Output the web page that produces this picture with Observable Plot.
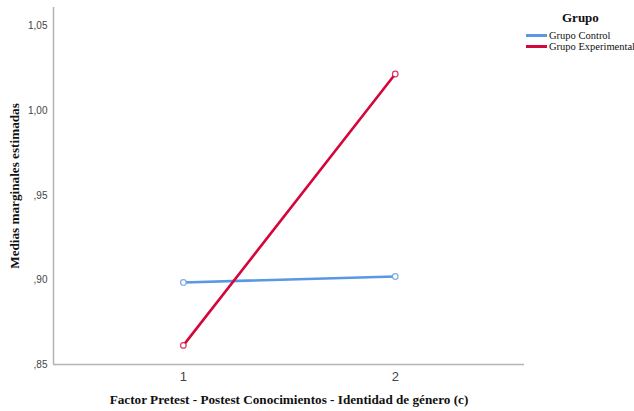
<!DOCTYPE html>
<html><head><meta charset="utf-8">
<script src="https://cdn.jsdelivr.net/npm/d3@7"></script>
<script src="https://cdn.jsdelivr.net/npm/@observablehq/plot@0.6"></script>
<style>
html,body{margin:0;padding:0;background:#fff;}
#wrap{position:relative;width:634px;height:411px;}
#legend{position:absolute;left:526px;top:10px;font-family:"Liberation Serif","DejaVu Serif",serif;color:#111;white-space:nowrap;}
#legend .title{font-weight:bold;font-size:13px;margin-left:36px;margin-bottom:4px;}
#legend .item{display:flex;align-items:center;font-size:10.5px;height:11px;font-family:"Liberation Serif",serif;}
#legend .sw{width:21px;height:3px;margin-right:2px;}
</style>
</head><body>
<div id="wrap"><div id="chart"></div><div id="legend"></div></div>
<script>
const factor = [1, 2];
const groups = ["Grupo Control", "Grupo Experimental"];
const control = [0.8985, 0.9020];
const experimental = [0.8613, 1.0217];
const yTicks = [0.85, 0.90, 0.95, 1.00, 1.05];
const xTicks = [1, 2];
const colors = ["#5a97e4", "#d4073c"];
const xDomain = [0.387, 2.61];
const yDomain = [0.85, 1.061];

const data = [];
factor.forEach((f, i) => {
  data.push({factor: f, group: groups[0], value: control[i]});
  data.push({factor: f, group: groups[1], value: experimental[i]});
});

const fmt = v => {
  let s = v.toFixed(2).replace(".", ",");
  if (s.startsWith("0")) s = s.slice(1);
  return s;
};

const plot = Plot.plot({
  width: 634,
  height: 411,
  marginLeft: 53,
  marginRight: 110,
  marginTop: 7,
  marginBottom: 47,
  style: {fontFamily: "'Liberation Sans', Arial, sans-serif", background: "#fff"},
  x: {domain: xDomain, ticks: xTicks, label: null},
  y: {domain: yDomain, ticks: yTicks, label: null},
  color: {domain: groups, range: colors},
  marks: [
    Plot.ruleX([xDomain[0]], {stroke: "#b4b4b4", strokeWidth: 1.5}),
    Plot.ruleY([yDomain[0]], {stroke: "#b4b4b4", strokeWidth: 1.5}),
    Plot.axisY({ticks: yTicks, tickSize: 0, tickPadding: 6, tickFormat: fmt, fontSize: 10, fill: "#444", label: null}),
    Plot.axisX({ticks: xTicks, tickSize: 0, tickPadding: 7, tickFormat: d => String(d), fontSize: 13, fill: "#444", label: null}),
    Plot.line(data, {x: "factor", y: "value", z: "group", stroke: "group", strokeWidth: 2.6}),
    Plot.dot(data, {x: "factor", y: "value", stroke: "group", r: 2.8, strokeWidth: 1.2, fill: "white", strokeOpacity: 0.8}),
    Plot.text(["Factor Pretest - Postest Conocimientos - Identidad de género (c)"], {
      frameAnchor: "bottom", dy: 39, text: d => d, fontSize: 13.2, fontWeight: "bold",
      fontFamily: "'Liberation Serif', serif", fill: "#111"
    }),
    Plot.text(["Medias marginales estimadas"], {
      frameAnchor: "left", textAnchor: "middle", dx: -39, rotate: -90, text: d => d, fontSize: 13.2, fontWeight: "bold",
      fontFamily: "'Liberation Serif', serif", fill: "#111"
    })
  ]
});
document.getElementById("chart").appendChild(plot);

const leg = document.getElementById("legend");
leg.innerHTML = '<div class="title">Grupo</div>' + groups.map((g, i) =>
  `<div class="item"><span class="sw" style="background:${colors[i]}"></span>${g}</div>`).join("");
</script>
</body></html>
